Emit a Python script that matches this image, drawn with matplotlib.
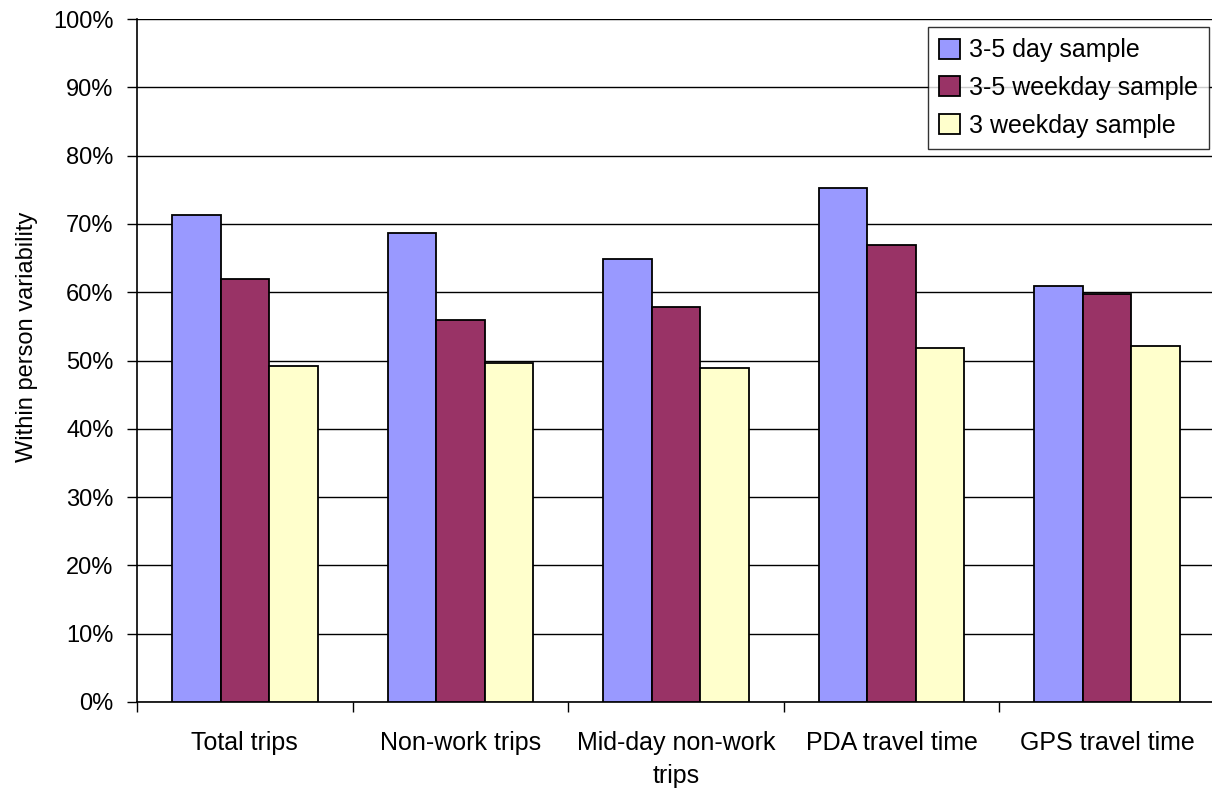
import matplotlib.pyplot as plt
import numpy as np

plt.rcParams["font.family"] = ["Liberation Sans", "DejaVu Sans"]

categories = ["Total trips", "Non-work trips", "Mid-day non-work\ntrips",
              "PDA travel time", "GPS travel time"]
series_names = ["3-5 day sample", "3-5 weekday sample", "3 weekday sample"]
day_3_5 = [71.3, 68.7, 64.8, 75.3, 60.9]
weekday_3_5 = [62.0, 56.0, 57.8, 66.9, 59.8]
weekday_3 = [49.2, 49.7, 48.9, 51.8, 52.1]
colors = ["#9999FF", "#993366", "#FFFFCC"]

fig = plt.figure(figsize=(12.12, 7.92), dpi=100)
ax = fig.add_axes([137 / 1212, 1 - 702 / 792, 1078 / 1212, 683 / 792])

x = np.arange(len(categories))
w = 0.225
for k, (vals, name, c) in enumerate(zip([day_3_5, weekday_3_5, weekday_3], series_names, colors)):
    ax.bar(x + (k - 1) * w, vals, width=w, color=c, edgecolor="black",
           linewidth=1.3, label=name, zorder=3)

ax.set_xlim(-0.5, len(categories) - 0.5)
ax.set_ylim(0, 100)
ax.set_yticks(np.arange(0, 101, 10))
ax.set_yticklabels([f"{v}%" for v in range(0, 101, 10)], fontsize=17)
ax.yaxis.grid(True, color="black", linewidth=1, zorder=0)
ax.set_axisbelow(True)

ax.set_xticks(x)
ax.set_xticklabels(categories, fontsize=18, linespacing=1.45)
ax.set_xticks(np.arange(-0.5, len(categories) + 0.5, 1), minor=True)
ax.tick_params(axis="x", which="major", length=0, pad=21)
ax.tick_params(axis="x", which="minor", length=7, width=1, direction="out")
ax.tick_params(axis="y", length=7, width=1, direction="out", pad=10)

for s in ["top", "right"]:
    ax.spines[s].set_visible(False)
for s in ["left", "bottom"]:
    ax.spines[s].set_color("black")
    ax.spines[s].set_linewidth(1.2)

ax.set_ylabel("Within person variability", fontsize=17)
ax.yaxis.set_label_coords((38 - 137) / 1078, (702 - 337) / 682)

leg = ax.legend(loc="upper right", bbox_to_anchor=(1209 / 1212, 1 - 27 / 792),
                bbox_transform=fig.transFigure, fontsize=18, frameon=True,
                fancybox=False, edgecolor="black", handlelength=0.85,
                handleheight=0.85, handletextpad=0.35, labelspacing=0.55,
                borderpad=0.45, borderaxespad=0)
leg.get_frame().set_linewidth(1)

fig.savefig("out.png", dpi=100)
